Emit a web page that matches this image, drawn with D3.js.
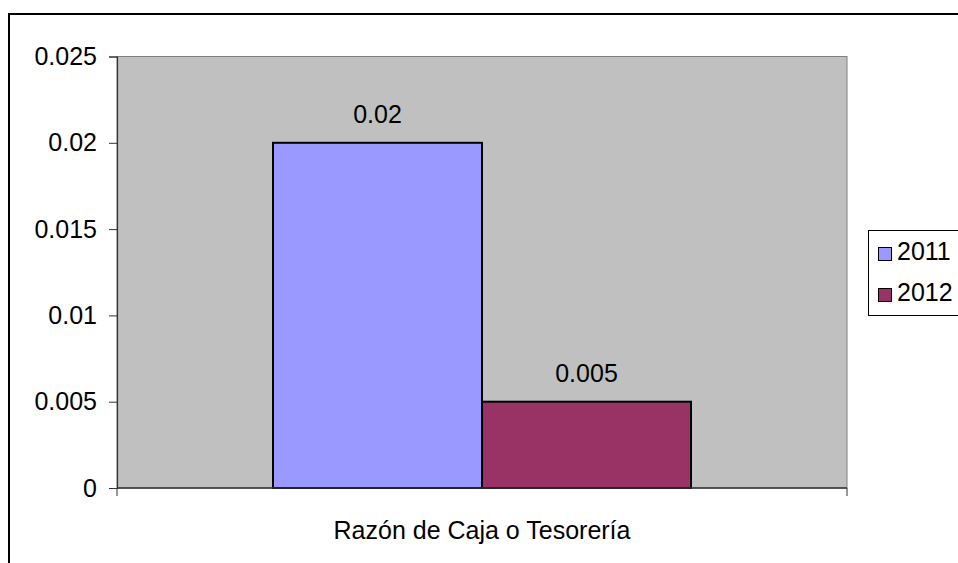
<!DOCTYPE html>
<html>
<head>
<meta charset="utf-8">
<script src="https://cdn.jsdelivr.net/npm/d3@7"></script>
<style>
  body { margin: 0; background: #fff; }
  text { font-family: "Liberation Sans", Arial, sans-serif; fill: #000; }
</style>
</head>
<body>
<div id="chart"></div>
<script>
// data
var categories = ["Razón de Caja o Tesorería"];
var seriesNames = ["2011", "2012"];
var seriesValues = [0.02, 0.005];
var seriesColors = ["#9999FF", "#993366"];
var yTicks = [0, 0.005, 0.01, 0.015, 0.02, 0.025];

var width = 958, height = 563;
var plot = { left: 117, top: 56.5, right: 847, bottom: 488 };

var svg = d3.select("#chart").append("svg")
    .attr("width", width)
    .attr("height", height);

// outer chart frame (runs off the page right and bottom)
svg.append("rect")
    .attr("x", 9).attr("y", 14)
    .attr("width", 1000).attr("height", 600)
    .attr("fill", "#fff")
    .attr("stroke", "#000")
    .attr("stroke-width", 2);

var x0 = d3.scaleBand()
    .domain(categories)
    .range([plot.left, plot.right])
    .padding(0);

// group band: bars take 418 of 730 px (gap width ~150%)
var groupWidth = 418;
var x1 = d3.scaleBand()
    .domain(seriesNames)
    .range([0, groupWidth]);

var y = d3.scaleLinear()
    .domain([0, 0.025])
    .range([plot.bottom, plot.top]);

// plot area background
svg.append("rect")
    .attr("x", plot.left).attr("y", plot.top)
    .attr("width", plot.right - plot.left)
    .attr("height", plot.bottom - plot.top)
    .attr("fill", "#C0C0C0")
    .attr("stroke", "#808080")
    .attr("stroke-width", 1);

// bars
var g = svg.append("g");
categories.forEach(function (cat) {
    var cx = x0(cat) + x0.bandwidth() / 2;
    var start = cx - groupWidth / 2;
    var rows = seriesValues.map(function (v, i) {
        return { name: seriesNames[i], value: v, color: seriesColors[i] };
    });

    g.selectAll("rect.bar")
        .data(rows)
        .join("rect")
        .attr("class", "bar")
        .attr("x", d => start + x1(d.name))
        .attr("y", d => y(d.value))
        .attr("width", x1.bandwidth())
        .attr("height", d => y(0) - y(d.value))
        .attr("fill", d => d.color)
        .attr("stroke", "#000")
        .attr("stroke-width", 2);

    g.selectAll("text.lbl")
        .data(rows)
        .join("text")
        .attr("class", "lbl")
        .attr("x", d => start + x1(d.name) + x1.bandwidth() / 2)
        .attr("y", d => y(d.value) - 20)
        .attr("text-anchor", "middle")
        .attr("font-size", 25)
        .text(d => String(d.value));
});

// y axis
var yAxis = svg.append("g")
    .attr("transform", "translate(" + plot.left + ",0)")
    .call(d3.axisLeft(y).tickValues(yTicks).tickSize(8).tickPadding(12)
        .tickFormat(d => String(+d.toFixed(3))));
yAxis.select(".domain").attr("stroke", "#333").attr("stroke-width", 1.2);
yAxis.selectAll(".tick line").attr("stroke", "#333");
yAxis.selectAll(".tick text")
    .attr("font-size", 25)
    .attr("font-family", "Liberation Sans, Arial, sans-serif")
    .attr("fill", "#000");

// x axis
var xAxis = svg.append("g")
    .attr("transform", "translate(0," + plot.bottom + ")");
xAxis.append("line")
    .attr("x1", plot.left).attr("x2", plot.right)
    .attr("stroke", "#333").attr("stroke-width", 1.5);
xAxis.selectAll("line.tk")
    .data([plot.left, plot.right])
    .join("line")
    .attr("class", "tk")
    .attr("x1", d => d).attr("x2", d => d)
    .attr("y1", 0).attr("y2", 8)
    .attr("stroke", "#333");
xAxis.selectAll("text")
    .data(categories)
    .join("text")
    .attr("x", d => x0(d) + x0.bandwidth() / 2)
    .attr("y", 51)
    .attr("text-anchor", "middle")
    .attr("font-size", 25)
    .text(d => d);

// legend
var legend = svg.append("g");
legend.append("rect")
    .attr("x", 868.5).attr("y", 230.5)
    .attr("width", 200).attr("height", 85)
    .attr("fill", "#fff")
    .attr("stroke", "#000");
var items = legend.selectAll("g.item")
    .data(seriesNames)
    .join("g")
    .attr("class", "item")
    .attr("transform", (d, i) => "translate(878," + (247 + i * 41) + ")");
items.append("rect")
    .attr("width", 13).attr("height", 13)
    .attr("x", 0.5).attr("y", 0.5)
    .attr("fill", (d, i) => seriesColors[i])
    .attr("stroke", "#000");
items.append("text")
    .attr("x", 19)
    .attr("y", 13)
    .attr("font-size", 25)
    .text(d => d);
</script>
</body>
</html>
